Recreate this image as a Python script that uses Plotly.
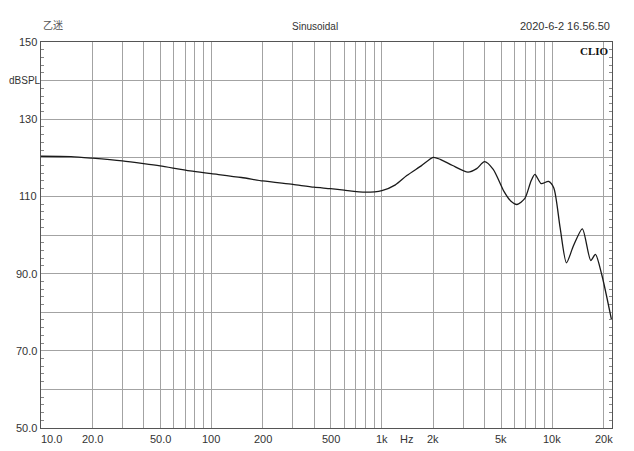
import numpy as np
import plotly.graph_objects as go

# Frequency response data (Hz, dBSPL)
freq = [10, 15, 20, 30, 40, 50, 75, 100, 150, 200, 300, 400, 500, 600, 800,
        1000, 1200, 1400, 1700, 2000, 2200, 2600, 3200, 3600, 4000, 4500,
        5200, 5700, 6200, 6900, 7500, 7900, 8600, 9500, 10200, 11100, 12100,
        13300, 15000, 16800, 17900, 19500, 22200]
spl = [120.4, 120.3, 119.9, 119.2, 118.5, 117.9, 116.6, 115.9, 114.9, 114.0,
       113.1, 112.4, 112.0, 111.6, 111.1, 111.5, 113.0, 115.4, 117.9, 120.1,
       119.6, 118.0, 116.3, 117.2, 119.0, 117.0, 111.3, 108.8, 107.9, 109.5,
       114.0, 115.7, 113.3, 113.9, 112.2, 102.0, 92.8, 97.2, 101.6, 93.4,
       95.0, 89.7, 78.2]

x_tick_vals = [10, 20, 50, 100, 200, 500, 1000, 2000, 5000, 10000, 20000]
x_tick_text = ["10.0", "20.0", "50.0", "100", "200", "500", "1k", "2k", "5k", "10k", "20k"]
y_tick_vals = [150, 130, 110, 90, 70, 50]
y_tick_text = ["150", "130", "110", "90.0", "70.0", "50.0"]

title_left = "乙迷"
title_mid = "Sinusoidal"
title_right = "2020-6-2 16.56.50"

grid_x = [m * 10 ** d for d in range(1, 5) for m in range(1, 10) if m * 10 ** d <= 20000]

FONT = "Liberation Sans, Arial, sans-serif"
TXT = "#333333"

W, H = 626, 443
ML, MR, MT, MB = 33, 22, 34, 23
plot_w = W - ML - MR

fig = go.Figure()
fig.add_trace(go.Scatter(x=freq, y=spl, mode="lines",
                         line=dict(color="#1a1a1a", width=1.3, shape="spline", smoothing=0.7),
                         hoverinfo="skip", showlegend=False))

# page body has an 8px margin; figure sized to fit the window
fig.update_layout(
    width=W, height=H,
    margin=dict(l=ML, r=MR, t=MT, b=MB),
    paper_bgcolor="white", plot_bgcolor="white",
    font=dict(family=FONT, size=11, color=TXT),
    showlegend=False,
)
fig.update_xaxes(type="log", range=[1, 4.35], tickvals=grid_x, showticklabels=False,
                 ticks="", showgrid=True, gridcolor="#a3a3a3", gridwidth=1,
                 showline=True, linecolor="#555555", linewidth=1.2, mirror=True,
                 zeroline=False)
fig.update_yaxes(range=[50, 150], dtick=10, tick0=50, showticklabels=False,
                 ticks="", showgrid=True, gridcolor="#a3a3a3", gridwidth=1,
                 showline=True, linecolor="#555555", linewidth=1.2, mirror="allticks",
                 zeroline=False,
                 minor=dict(dtick=2, tick0=50, ticks="inside", ticklen=3,
                            tickcolor="#888888", showgrid=False))

ann = []
for v, t in zip(x_tick_vals, x_tick_text):
    xs = 10 if t == "10.0" else 0
    ann.append(dict(x=np.log10(v), y=0, xref="x", yref="paper", text=t,
                    showarrow=False, yanchor="top", yshift=-3, xshift=xs,
                    font=dict(family=FONT, size=11, color=TXT)))
ann.append(dict(x=np.log10(1400), y=0, xref="x", yref="paper", text="Hz",
                showarrow=False, yanchor="top", yshift=-3,
                font=dict(family=FONT, size=11, color=TXT)))
for v, t in zip(y_tick_vals, y_tick_text):
    ann.append(dict(x=0, y=v, xref="paper", yref="y", text=t, showarrow=False,
                    xanchor="right", xshift=-2,
                    font=dict(family=FONT, size=11, color=TXT)))
ann.append(dict(x=-ML / plot_w, y=140, xref="paper", yref="y", text="dBSPL",
                showarrow=False, xanchor="left", xshift=-1,
                font=dict(family=FONT, size=10, color=TXT)))
ann.append(dict(x=0, y=1, xref="paper", yref="paper", text=title_left, showarrow=False,
                xanchor="left", yanchor="bottom", yshift=8,
                font=dict(family="Noto Sans CJK SC", size=10, color="#555555")))
ann.append(dict(x=0.48, y=1, xref="paper", yref="paper", text=title_mid, showarrow=False,
                xanchor="center", yanchor="bottom", yshift=8,
                font=dict(family=FONT, size=10, color=TXT)))
ann.append(dict(x=1, y=1, xref="paper", yref="paper", text=title_right, showarrow=False,
                xanchor="right", yanchor="bottom", yshift=8,
                font=dict(family=FONT, size=11, color=TXT)))
ann.append(dict(x=1, y=1, xref="paper", yref="paper", text="<b>CLIO</b>", showarrow=False,
                xanchor="right", yanchor="top", xshift=-1, yshift=-1,
                font=dict(family="Liberation Serif, serif", size=11, color="#111111")))
fig.update_layout(annotations=ann)

fig.write_html("out.html")
